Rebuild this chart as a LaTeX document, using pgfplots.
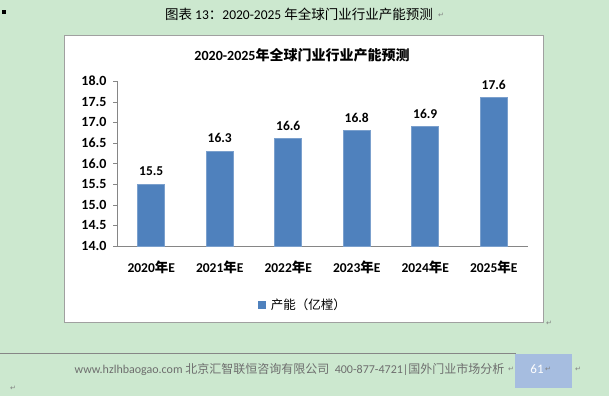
\documentclass[border=0pt]{standalone}
\usepackage{fontspec}
\setmainfont{Carlito}
\newfontfamily\cjk{Noto Sans CJK SC}
\newfontfamily\djv{DejaVu Sans}
\usepackage{pgfplots}
\pgfplotsset{compat=1.18}
\definecolor{bg}{RGB}{204,232,207}
\definecolor{barblue}{RGB}{79,129,189}
\definecolor{axgray}{RGB}{134,134,134}
\definecolor{boxgray}{RGB}{160,160,160}
\definecolor{pagenum}{RGB}{166,189,224}
\definecolor{foot}{RGB}{110,110,110}
\begin{document}
\begin{tikzpicture}[x=1pt,y=1pt]
\fill[bg] (0,0) rectangle (609,396);
\useasboundingbox (0,0) rectangle (609,396);
% small bullet
\fill[black] (2,382) rectangle (5.5,385.5);
% caption
\node[font=\fontsize{13.5}{15}\selectfont] at (299,382) {{\cjk 图表}\ 13{\cjk ：}2020-2025\ {\cjk 年全球门业行业产能预测}};
\node[font=\djv\fontsize{7}{8}\selectfont, text=gray] at (441,381) {↵};
% chart box
\draw[boxgray, fill=white] (64,74) rectangle (543,361);
\node[font=\djv\fontsize{7}{8}\selectfont, text=gray] at (549,73) {↵};
% chart title
\node[font=\fontsize{14}{16}\selectfont\bfseries] at (302,341) {2020-2025{\cjk\bfseries 年全球门业行业产能预测}};
\begin{axis}[
  at={(117pt,150pt)}, anchor=south west,
  scale only axis, width=411pt, height=165pt,
  xmin=-0.5, xmax=5.5, ymin=14, ymax=18,
  ytick={14,14.5,...,18},
  xtick={0,...,5},
  xticklabels={2020{\cjk 年}E,2021{\cjk 年}E,2022{\cjk 年}E,2023{\cjk 年}E,2024{\cjk 年}E,2025{\cjk 年}E},
  minor xtick={-0.5,0.5,...,5.5},
  axis x line=bottom, axis y line=left,
  axis line style={-, axgray},
  tick align=outside,
  major tick length=4pt, minor tick length=4pt,
  xtick style={draw=none},
  minor x tick style={axgray},
  ytick style={axgray},
  /pgf/number format/assume math mode=true,
  yticklabel style={/pgf/number format/fixed, /pgf/number format/precision=1, /pgf/number format/fixed zerofill, font=\fontsize{14}{15}\selectfont\bfseries, xshift=-3pt},
  xticklabel style={font=\fontsize{13.5}{15}\selectfont\bfseries, yshift=-7pt},
  ybar, bar width=27pt,
  nodes near coords,
  every node near coord/.append style={font=\fontsize{13.5}{15}\selectfont\bfseries, /pgf/number format/fixed, /pgf/number format/precision=1, /pgf/number format/fixed zerofill, yshift=4.5pt},
  legend style={at={(0.4526,-0.355)}, anchor=center, draw=none, fill=none, font=\fontsize{12.5}{14}\selectfont},
  legend image code/.code={\fill[barblue] (0pt,-3.5pt) rectangle (7pt,3.5pt);},
  clip=false,
]
\addplot[fill=barblue, draw=barblue!75!white, line width=0.6pt] coordinates {(0,15.5) (1,16.3) (2,16.6) (3,16.8) (4,16.9) (5,17.6)};
\addlegendentry{\hspace{3pt}\cjk 产能（亿樘）}
\end{axis}
% footer
\draw[axgray, line width=0.8pt] (0,43) -- (516,43);
\fill[pagenum] (515,8) rectangle (572,42);
\node[anchor=east, font=\fontsize{12}{14}\selectfont, text=foot] at (508,27) {www.hzlhbaogao.com\ {\cjk 北京汇智联恒咨询有限公司}\ \ 400-877-4721|{\cjk 国外门业市场分析}};
\node[font=\djv\fontsize{7}{8}\selectfont, text=gray] at (511,27) {↵};
\node[font=\fontsize{13}{15}\selectfont, text=white] at (537,27) {61};
\node[font=\djv\fontsize{7}{8}\selectfont, text=gray] at (548,27) {↵};
\node[font=\djv\fontsize{7}{8}\selectfont, text=gray] at (578,27) {↵};
\node[font=\djv\fontsize{7}{8}\selectfont, text=gray] at (13,8) {↵};
\end{tikzpicture}
\end{document}
